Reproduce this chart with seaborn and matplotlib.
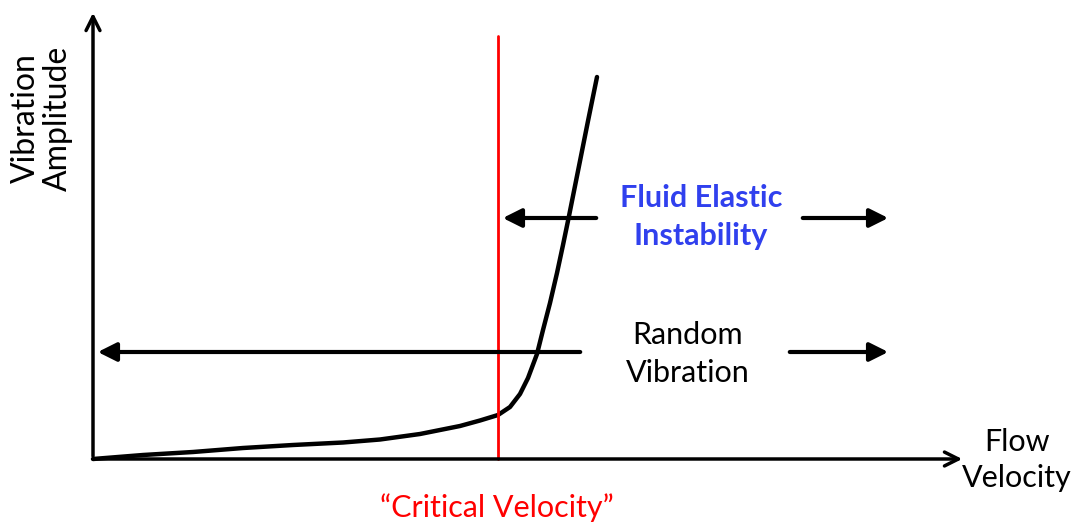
import matplotlib
matplotlib.use("Agg")
import matplotlib.pyplot as plt
import numpy as np
import pandas as pd
import seaborn as sns

# response curve, arbitrary units (origin at bottom-left of the axes)
velocity = [0.0, 0.5, 1.0, 1.5, 2.0, 2.5, 2.87, 3.27, 3.67, 3.87, 4.05, 4.17, 4.27,
            4.35, 4.44, 4.50, 4.57, 4.64, 4.70, 4.76, 4.82, 4.88, 4.95, 5.04]
amplitude = [0.0, 0.04, 0.07, 0.11, 0.14, 0.165, 0.195, 0.25, 0.33, 0.385, 0.44, 0.52, 0.65,
             0.81, 1.05, 1.29, 1.56, 1.86, 2.14, 2.43, 2.73, 3.03, 3.38, 3.82]

critical_velocity = 4.05
critical_top = 4.23
random_level = 1.07
fei_level = 2.41

axis_labels = ["Vibration\nAmplitude", "Flow\nVelocity"]
region_labels = ["Fluid Elastic\nInstability", "Random\nVibration"]
critical_label = "\u201cCritical Velocity\u201d"

sns.set_theme(style="white")
plt.rcParams['font.family'] = ['Lato', 'DejaVu Sans']

fig = plt.figure(figsize=(10.79, 5.23), dpi=100)
ax = fig.add_axes([0, 0, 1, 1])
ax.set_xlim(-0.93, 9.86)
ax.set_ylim(-0.64, 4.59)
ax.axis("off")

df = pd.DataFrame({"velocity": velocity, "amplitude": amplitude})
sns.lineplot(data=df, x="velocity", y="amplitude", ax=ax, color="black", lw=3.2,
             sort=False, solid_joinstyle="round", solid_capstyle="round")

# axes with open arrowheads
ax.annotate("", xy=(8.72, 0), xytext=(0, 0),
            arrowprops=dict(arrowstyle="->", lw=2.5, color="black", mutation_scale=25))
ax.annotate("", xy=(0, 4.49), xytext=(0, 0),
            arrowprops=dict(arrowstyle="->", lw=2.5, color="black", mutation_scale=25))

ax.plot([critical_velocity, critical_velocity], [0, critical_top], color="#ff0000", lw=2)

# region arrows
solid = dict(arrowstyle="-|>", lw=3, color="black", mutation_scale=28)
ax.annotate("", xy=(0.02, random_level), xytext=(4.9, random_level), arrowprops=solid)
ax.annotate("", xy=(7.98, random_level), xytext=(6.94, random_level), arrowprops=solid)
ax.annotate("", xy=(critical_velocity + 0.02, fei_level), xytext=(5.06, fei_level), arrowprops=solid)
ax.annotate("", xy=(7.98, fei_level), xytext=(7.07, fei_level), arrowprops=solid)

ax.text(6.08, fei_level + 0.01, region_labels[0], color="#3040ee", fontsize=22,
        fontweight="bold", ha="center", va="center", linespacing=1.42)
ax.text(5.95, random_level - 0.02, region_labels[1], color="black", fontsize=22,
        ha="center", va="center", linespacing=1.4)
ax.text(critical_velocity - 0.01, -0.49, critical_label, color="#ff0000", fontsize=22,
        ha="center", va="center")
ax.text(9.24, -0.01, axis_labels[1], color="black", fontsize=22,
        ha="center", va="center", linespacing=1.35)
ax.text(-0.51, 3.41, axis_labels[0], color="black", fontsize=23, rotation=90,
        ha="center", va="center", linespacing=1.1)

fig.savefig("out.png", dpi=100)
